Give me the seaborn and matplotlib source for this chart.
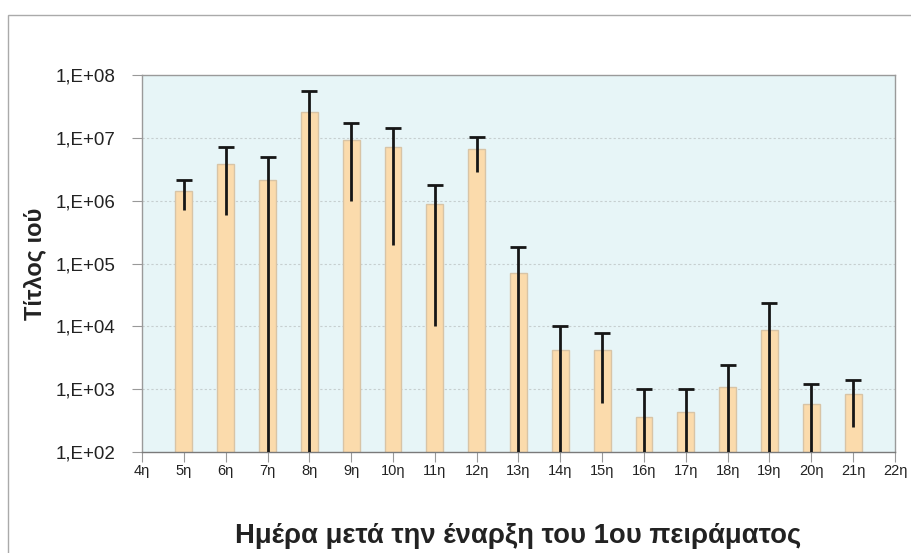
import seaborn as sns
import pandas as pd
import matplotlib.pyplot as plt
from matplotlib.patches import Rectangle

days = [5, 6, 7, 8, 9, 10, 11, 12, 13, 14, 15, 16, 17, 18, 19, 20, 21]
titer = [1.4e6, 3.9e6, 2.1e6, 2.6e7, 9.2e6, 7.2e6, 8.8e5, 6.7e6, 7.0e4,
         4.2e3, 4.2e3, 3.6e2, 4.4e2, 1.1e3, 8.7e3, 5.8e2, 8.3e2]
err = [0.7e6, 3.3e6, 2.8e6, 3.0e7, 8.2e6, 7.0e6, 8.7e5, 3.8e6, 1.1e5,
       5.8e3, 3.6e3, 6.3e2, 5.5e2, 1.3e3, 1.45e4, 6.5e2, 5.8e2]
tick_days = list(range(4, 23))
tick_labels = [f'{d}η' for d in tick_days]
ytick_vals = [1e2, 1e3, 1e4, 1e5, 1e6, 1e7, 1e8]
ytick_labels = ['1,E+02', '1,E+03', '1,E+04', '1,E+05', '1,E+06', '1,E+07', '1,E+08']

df = pd.DataFrame({'day': days, 'titer': titer, 'err': err})

sns.set_style('white')
plt.rcParams['font.family'] = ['Liberation Sans', 'DejaVu Sans']

fig = plt.figure(figsize=(9.12, 5.53), dpi=100)
ax = fig.add_axes([142 / 912, 1 - 452 / 553, (895 - 142) / 912, (452 - 75) / 553])
ax.set_facecolor('#E7F5F7')

sns.barplot(data=df, x='day', y='titer', native_scale=True, width=0.4,
            color='#FBDBAC', edgecolor='#D8C4A6', linewidth=1, saturation=1,
            errorbar=None, ax=ax)
ax.set_yscale('log')

# lower ends that fall below zero run down to the axis
low = [min(e, v - 50) for v, e in zip(titer, err)]
_, caps, _ = ax.errorbar(days, titer, yerr=[low, err], fmt='none', ecolor='#161616',
                         elinewidth=2, capsize=5.8, capthick=2, zorder=5)
caps[0].set_visible(False)

ax.set_xlim(4, 22)
ax.set_ylim(1e2, 1e8)
ax.set_xticks(tick_days)
ax.set_xticklabels(tick_labels, fontsize=10.5, color='#222222')
ax.set_yticks(ytick_vals)
ax.set_yticklabels(ytick_labels, fontsize=13.5, color='#222222')
ax.minorticks_off()
ax.tick_params(axis='y', length=7, width=0.8, color='#999999', pad=12, left=True)
ax.tick_params(axis='x', length=7, width=0.8, color='#999999', pad=2, bottom=True)

for v in ytick_vals[1:-1]:
    ax.axhline(v, color='#C6CFD0', lw=0.8, ls=(0, (2, 2)), zorder=0.5)

for s in ax.spines.values():
    s.set_color('#9A9A9A')
    s.set_linewidth(1)
ax.spines['bottom'].set_color('#7A7A7A')

ax.set_xlabel('Ημέρα μετά την έναρξη του 1ου πειράματος', fontsize=19.8,
              fontweight='bold', color='#222222', va='center')
ax.xaxis.set_label_coords(0.5, -0.222)
ax.set_ylabel('Τίτλος ιού', fontsize=17, fontweight='bold', color='#222222', va='center')
ax.yaxis.set_label_coords(-0.143, 0.5)

fig.patches.append(Rectangle((8 / 912, -0.05), 1.1, 1 - 15 / 553 + 0.05,
                             transform=fig.transFigure, fill=False,
                             edgecolor='#AAAAAA', lw=1))

fig.savefig('out.png', dpi=100)
